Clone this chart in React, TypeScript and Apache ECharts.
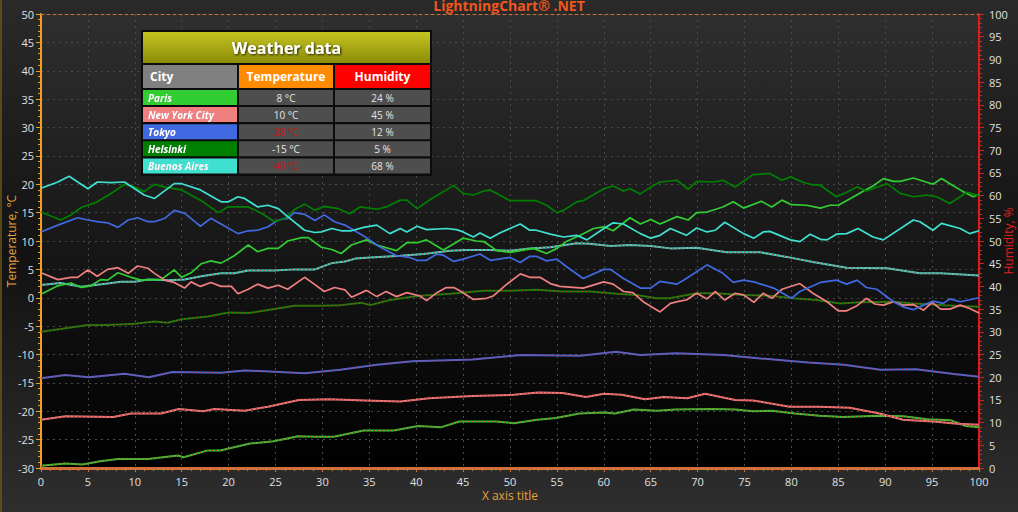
import React, { useEffect, useRef } from "react";
import * as echarts from "echarts";

// ---------- table data ----------
const cities = ["Paris", "New York City", "Tokyo", "Helsinki", "Buenos Aires"];
const cityTemps = [8, 10, 28, -15, 40];
const cityHumidity = [24, 45, 12, 5, 68];
const cityColors = ["#32CD32", "#F08080", "#4169E1", "#008000", "#40E0D0"];

// ---------- series data: [x, value °C] ----------
const parisSolid = [[0,0.6],[1.8,2.1],[3.2,2.6],[4.3,1.8],[5.3,2.1],[6.4,3.2],[7.1,3.1],[8.2,4.4],[9.6,3.6],[10.7,3.1],[11.7,3.2],[12.8,3.2],[14.2,4.9],[15,3.6],[16,4.4],[17.1,6.0],[18.1,6.5],[19.2,6.1],[20.6,7.4],[22.1,9.3],[23.1,8.1],[24.2,8.7],[25.3,8.7],[26.3,10.0],[27.8,10.6],[28.5,10.6],[29.9,8.9],[31,8.5],[32,7.8],[33.1,9.3],[34.7,10.2],[35.8,9.3],[37.9,8.3],[39,9.7],[40.1,9.7],[41.1,10.2],[42.9,8.4],[45,10.5],[46.4,10.0],[47.2,9.9],[48.6,8.3],[50,8.0],[51.4,8.4],[52.5,8.7],[53.9,7.8],[55,8.7],[56,9.9],[57.5,11.0],[58.9,12.2],[60,12.5],[61,11.8],[62.8,14.1],[63.9,13.0],[65,13.8],[66,13.0],[67.8,14.3],[69,13.7],[69.9,15.0],[71,15.1],[72.7,16.0],[73.8,16.9],[74.9,15.8],[76.8,17.0],[77.9,16.0],[79,17.2],[80,16.4],[81.6,16.3],[83.1,15.8],[84.1,16.3],[85,16.3],[86.3,17.5],[87.7,18.8],[88.7,19.7],[89.8,21.0],[90.9,20.5],[91.6,20.5],[93,21.1],[95.1,20.0],[96,21.0],[96.9,20.1],[98.3,18.7],[99.4,17.8],[100,18.2]];
const newYorkSolid = [[0,4.4],[1.8,3.2],[3.2,3.6],[3.9,3.6],[5,4.9],[6,3.8],[7.1,5.0],[8.2,5.3],[9.3,4.3],[10.3,5.6],[11.4,5.2],[12.1,4.3],[13.2,3.1],[14.2,2.7],[15.3,1.7],[16,2.8],[17,2.0],[18.1,2.7],[19.2,2.0],[20.3,2.0],[21,0.7],[22.1,1.5],[23.1,2.4],[24.2,1.7],[25.3,2.2],[26.3,1.5],[28.1,3.6],[28.8,2.8],[30.2,1.1],[31.3,1.8],[32.4,1.4],[33.1,0.1],[34.7,1.3],[35.8,0.2],[36.8,1.1],[37.9,0.2],[39,0.9],[40.4,0.3],[41.1,-0.5],[42.2,0.9],[43.2,1.8],[44,1.8],[44.7,1.2],[46.1,-0.3],[47.5,-0.1],[48.2,0.3],[49.6,2.3],[51.1,4.2],[52.1,3.6],[53.2,3.6],[54.3,2.5],[55.3,2.0],[57.8,1.7],[60,2.8],[61,2.4],[62.1,1.1],[63.1,0.9],[64.2,-0.7],[66,-2.5],[67.1,-1.0],[68.1,-0.6],[68.8,-0.4],[69.9,0.8],[71,-0.2],[71.9,1.1],[72.9,-0.4],[74,0.8],[74.9,0.5],[76,-0.8],[77,0.8],[77.9,-0.1],[79,1.5],[80.9,2.5],[82.3,0.8],[83.8,-0.7],[85,-2.3],[85.9,-2.3],[87,-1.4],[88,-0.1],[88.9,-1.1],[89.8,-1.3],[90.9,-0.7],[91.9,-1.3],[93,-1.2],[94.1,-2.2],[95,-0.8],[95.9,-2.0],[96.9,-2.0],[98,-1.3],[99,-1.9],[100,-2.7]];
const tokyoSolid = [[0,11.6],[1.8,12.8],[3.9,14.1],[5,13.7],[6,13.4],[7.1,13.2],[8.2,12.4],[9.3,13.7],[10.3,14.1],[11.4,13.4],[12.1,13.4],[13.2,14.0],[14.2,15.4],[15.3,14.9],[16.4,13.4],[17,12.6],[18.1,14.0],[19.2,13.0],[21,11.3],[22.1,11.8],[23.1,11.9],[24.2,12.5],[25.3,13.7],[26.3,14.0],[27,15.0],[28.1,14.7],[29.2,13.6],[30.2,14.6],[31.3,13.4],[32.4,12.8],[34.4,10.9],[36.1,9.0],[37.9,7.4],[39.3,7.1],[40.1,6.6],[41.1,6.6],[42.2,7.7],[42.9,7.5],[44,6.4],[45,6.8],[46.8,7.7],[47.9,6.6],[50,7.1],[51.1,6.2],[52.1,7.3],[52.8,7.3],[53.9,6.5],[55,6.8],[56,5.5],[57.8,3.4],[60,5.0],[60.7,5.0],[62.1,3.4],[63.9,1.7],[65,1.7],[66,2.9],[67.8,2.4],[68.8,3.4],[71,5.8],[72.7,4.3],[73.8,2.7],[74.9,3.1],[76,2.8],[78.1,1.7],[80,-0.1],[80.9,1.1],[83.1,2.7],[84.8,3.1],[85.9,2.4],[87,3.1],[88,1.8],[89.1,1.5],[90.9,-0.7],[91.9,-1.6],[93,-2.1],[94.1,-1.3],[95.1,-0.6],[96.2,-1.0],[96.9,-0.2],[98,-0.7],[100,0.0]];
const helsinkiSolid = [[0,15.1],[2.1,13.7],[3.2,14.6],[4.3,15.9],[6,16.9],[7.5,18.4],[8.9,20.0],[10,19.5],[11,18.7],[12.1,20.0],[13.2,19.5],[15,19.0],[17,17.2],[18.9,15.0],[19.9,16.0],[22.1,16.0],[23.5,14.9],[24.9,13.4],[26,14.0],[27,15.5],[28.1,16.5],[29.2,15.4],[30.2,16.1],[31.7,15.7],[32.9,14.8],[34,16.0],[35.8,15.6],[36.8,16.0],[38.3,17.2],[39,17.2],[40.1,15.7],[41.5,17.3],[42.9,18.7],[44,19.8],[45,18.4],[46.1,18.1],[47.2,18.8],[47.9,19.0],[50,17.1],[52.8,17.1],[53.9,16.3],[55,15.0],[55.7,15.4],[57.1,16.9],[57.8,17.1],[60,19.2],[61,19.7],[62.1,18.8],[62.8,19.2],[63.9,18.3],[65,19.5],[66,20.4],[67.8,20.7],[69,19.1],[69.9,20.5],[71.7,20.4],[72.7,20.7],[74,19.5],[75.9,21.7],[77.7,21.9],[79,20.7],[79.9,21.3],[81.3,20.3],[82.3,19.9],[83,19.9],[84.8,17.8],[85.9,18.6],[87,19.5],[88,18.8],[90.2,20.1],[91.6,18.4],[93,17.8],[94.4,18.1],[95.5,17.8],[96.9,16.6],[98.7,18.6],[100,18.0]];
const buenosAiresSolid = [[0,19.3],[1.8,20.4],[3,21.4],[5,19.2],[6,20.4],[7.5,20.3],[8.9,20.4],[11,18.1],[12.1,17.5],[14.2,20.1],[15,20.1],[17,19.0],[19.2,16.9],[20,16.9],[21,17.8],[21.7,17.5],[23.1,16.0],[24.2,16.3],[25.3,15.7],[26.3,14.3],[28.1,11.9],[29.2,11.5],[29.9,11.6],[31,12.2],[32,11.8],[33.1,11.8],[34.4,12.4],[35.8,12.8],[37.2,11.3],[38.3,12.2],[39,11.6],[40.1,12.6],[41.1,12.0],[43.2,12.2],[44.3,12.0],[45,11.6],[46.1,10.7],[46.8,11.4],[47.9,10.5],[48.9,11.4],[51.1,13.0],[52.1,11.9],[52.8,11.9],[54.3,11.2],[55.7,10.7],[57.1,11.0],[58.2,10.2],[60,12.2],[61,13.2],[62.1,13.0],[63.9,11.3],[65,10.5],[66,11.0],[67.1,12.2],[68.8,11.0],[69.9,12.3],[71,11.6],[71.9,11.9],[72.9,13.3],[74.9,11.3],[76,10.5],[77,11.6],[77.7,11.7],[79.9,10.2],[80.9,9.9],[82,11.2],[83.1,10.3],[83.8,10.2],[84.8,11.2],[85.9,11.3],[87.1,12.2],[88.7,10.7],[89.8,10.2],[93,13.7],[93.7,13.4],[95.1,11.9],[96,13.1],[98,12.2],[99,11.3],[100,11.8]];

const parisDashed = [[0,-29.6],[2.6,-29.2],[4.4,-29.4],[6.3,-28.8],[8.2,-28.4],[11.4,-28.4],[14.6,-27.8],[15.2,-28.1],[17.8,-26.9],[19.1,-26.9],[22.3,-25.7],[24.8,-25.3],[27.4,-24.4],[29.3,-24.5],[31.2,-24.5],[34.4,-23.4],[37.6,-23.4],[40.2,-22.6],[42.7,-22.8],[44.6,-21.8],[48.5,-21.8],[50.4,-22.1],[52.9,-21.5],[54.9,-21.2],[57.4,-20.4],[60,-20.2],[61.2,-20.4],[63.2,-19.7],[65.7,-19.9],[67.6,-19.7],[71.5,-19.6],[74,-19.7],[75.9,-20.0],[77.9,-19.9],[80.4,-20.4],[83,-20.8],[85.5,-21.0],[89.4,-20.8],[91.9,-20.9],[94.5,-21.4],[97,-21.6],[98.6,-22.6],[100,-22.8]];
const newYorkDashed = [[0,-21.5],[2.6,-20.9],[7.7,-21.0],[9.6,-20.4],[12.8,-20.4],[14.7,-19.6],[17.3,-20.0],[18.5,-19.6],[21.7,-19.9],[24.2,-19.2],[27.5,-18.0],[30.7,-17.9],[34.5,-18.1],[38.3,-18.3],[41.4,-17.7],[46,-17.3],[50.4,-17.1],[53,-16.7],[55.6,-16.8],[58.1,-17.5],[60,-16.9],[61.9,-17.1],[64.4,-17.9],[66.4,-17.5],[68.9,-17.7],[70.8,-16.9],[74,-18.0],[75.9,-18.1],[79.8,-19.2],[83,-19.2],[86.2,-19.4],[89.4,-20.4],[91.9,-21.5],[95.1,-21.8],[97.7,-22.2],[100,-22.4]];
const tokyoDashed = [[0,-14.2],[2.6,-13.6],[5.1,-14.0],[8.9,-13.4],[11.5,-14.0],[14,-13.1],[19.2,-13.2],[21.7,-12.8],[28.1,-13.3],[31.9,-12.7],[35.8,-11.8],[39.6,-11.2],[46,-10.9],[51.1,-10.1],[57.5,-10.2],[61.3,-9.5],[63.9,-10.1],[67.7,-9.8],[72.8,-10.1],[76.7,-10.7],[81.8,-11.4],[85.6,-11.8],[89.5,-12.7],[93.3,-12.6],[97.1,-13.4],[100,-13.9]];
const helsinkiDashed = [[0,-6.0],[2.1,-5.5],[5,-4.8],[7.1,-4.8],[10,-4.6],[12.1,-4.2],[13.5,-4.4],[15,-3.8],[17.8,-3.3],[20,-2.6],[22.1,-2.7],[24.9,-2.0],[27,-1.4],[29.9,-1.4],[32,-1.3],[34.2,-0.9],[35.1,-1.3],[37.2,-0.4],[40.1,0.3],[43.6,0.7],[47.2,1.25],[50,1.25],[52.8,1.4],[55.7,1.1],[58.5,1.1],[61.4,0.7],[63.5,0.5],[65.6,-0.1],[67,-0.1],[69.9,0.8],[71.7,0.8],[74.9,0.5],[77.7,0.35],[80.2,-0.1],[82.7,-0.4],[85.2,-1.0],[87.3,-0.8],[90.9,-0.7],[93,-1.0],[96.2,-1.3],[100,-1.6]];
const buenosAiresDashed = [[0,2.25],[2.1,2.6],[4.3,1.95],[7.1,2.5],[8.5,2.8],[10,2.8],[11.4,3.2],[13.5,3.1],[15.3,3.2],[17.1,3.8],[19.2,4.3],[20.6,4.3],[22.1,4.8],[24.9,4.8],[27,5.0],[29.2,5.0],[31,6.1],[32.4,6.4],[33.5,6.9],[35.1,7.1],[38.3,7.4],[40.8,7.7],[43.6,8.3],[45.4,8.4],[47.9,8.4],[50,8.3],[52.1,8.7],[54.3,8.9],[57.1,9.6],[58.5,9.5],[60.7,9.1],[62.8,9.3],[65,9.1],[67.1,8.7],[69.9,8.8],[73.1,8.0],[76.7,8.0],[79.5,7.2],[82.3,6.3],[85.9,5.3],[90.2,5.2],[93.7,4.3],[95.9,4.3],[100,3.9]];

const solidSeries = [parisSolid, newYorkSolid, tokyoSolid, helsinkiSolid, buenosAiresSolid];
const dashedSeries = [parisDashed, newYorkDashed, tokyoDashed, helsinkiDashed, buenosAiresDashed];

const FONT = '"Open Sans", "Noto Sans", sans-serif';

function buildTable(): any[] {
  const els: any[] = [];
  const colX = [143, 239, 335];
  const colW = [94, 94, 95];
  els.push({ type: "rect", shape: { x: 141, y: 30, width: 291, height: 146 }, style: { fill: "#0c0c0c" }, z: 10 });
  els.push({
    type: "rect", shape: { x: 143, y: 32, width: 287, height: 31 },
    style: { fill: new echarts.graphic.LinearGradient(0, 0, 0, 1, [{ offset: 0, color: "#C4C421" }, { offset: 1, color: "#8C8C08" }]) }, z: 11,
  });
  els.push({
    type: "text", x: 286.5, y: 48, z: 12,
    style: { text: "Weather data", fill: "#fff", font: `bold 16px ${FONT}`, align: "center", verticalAlign: "middle", textShadowColor: "rgba(0,0,0,0.8)", textShadowBlur: 2, textShadowOffsetX: 1, textShadowOffsetY: 1 },
  });
  const headers = ["City", "Temperature", "Humidity"];
  const headFills = ["#808080", "#FF8C00", "#FF0000"];
  headers.forEach((h, j) => {
    els.push({ type: "rect", shape: { x: colX[j], y: 65, width: colW[j], height: 23 }, style: { fill: headFills[j] }, z: 11 });
    els.push({
      type: "text", x: j === 0 ? colX[j] + 7 : colX[j] + colW[j] / 2, y: 76.5, z: 12,
      style: { text: h, fill: "#fff", font: `bold 12px ${FONT}`, align: j === 0 ? "left" : "center", verticalAlign: "middle" },
    });
  });
  cities.forEach((c, i) => {
    const y = 90 + i * 17.1;
    els.push({ type: "rect", shape: { x: colX[0], y, width: colW[0], height: 15 }, style: { fill: cityColors[i] }, z: 11 });
    els.push({
      type: "text", x: colX[0] + 5, y: y + 7.5, z: 12,
      style: { text: c, fill: "#fff", font: `italic bold 10px ${FONT}`, align: "left", verticalAlign: "middle", textShadowColor: "rgba(0,0,0,0.6)", textShadowBlur: 1 },
    });
    const vals = [`${cityTemps[i]} °C`, `${cityHumidity[i]} %`];
    vals.forEach((v, k) => {
      const j = k + 1;
      els.push({ type: "rect", shape: { x: colX[j], y, width: colW[j], height: 15 }, style: { fill: "rgba(88,88,88,0.88)" }, z: 11 });
      els.push({
        type: "text", x: colX[j] + colW[j] / 2, y: y + 7.5, z: 12,
        style: { text: v, fill: k === 0 && cityTemps[i] > 25 ? "#D01515" : "#E4E4E4", font: `10px ${FONT}`, align: "center", verticalAlign: "middle" },
      });
    });
  });
  return els;
}

export default function App() {
  const ref = useRef<HTMLDivElement>(null);
  useEffect(() => {
    document.body.style.margin = "0";
    const chart = echarts.init(ref.current!, undefined, { renderer: "svg" });
    const series: any[] = [];
    cities.forEach((c, i) => {
      series.push({
        name: c + " dashed", type: "line", data: dashedSeries[i], showSymbol: false, symbol: "none",
        lineStyle: { color: cityColors[i], width: 2 }, z: 3,
      });
      series.push({
        name: c + " dashed overlay", type: "line", data: dashedSeries[i], showSymbol: false, symbol: "none",
        lineStyle: { color: "rgba(205,55,55,0.9)", width: 1, type: [2, 2] }, z: 4,
      });
    });
    cities.forEach((c, i) => {
      series.push({
        name: c, type: "line", data: solidSeries[i], showSymbol: false, symbol: "none",
        lineStyle: { color: cityColors[i], width: 1.7 }, z: 5,
      });
    });

    const option: any = {
      animation: false,
      backgroundColor: new echarts.graphic.LinearGradient(0, 0, 0, 1, [
        { offset: 0, color: "#2a2a2a" },
        { offset: 0.5, color: "#121212" },
        { offset: 1, color: "#2e2e2e" },
      ]),
      textStyle: { fontFamily: FONT },
      grid: {
        left: 41, right: 39, top: 14, bottom: 44, show: true, borderWidth: 0,
        containLabel: false, outerBoundsMode: "none",
        backgroundColor: new echarts.graphic.LinearGradient(0, 0, 0, 1, [
          { offset: 0, color: "#2f2f2f" },
          { offset: 1, color: "#000000" },
        ]),
      },
      xAxis: [
        {
          type: "value", min: 0, max: 100, interval: 5, position: "bottom",
          axisLine: { show: true, onZero: false, lineStyle: { color: "#D0703A", width: 3 } },
          axisTick: { show: true, length: 4, lineStyle: { color: "#D0703A" } },
          minorTick: { show: true, splitNumber: 5, length: 3, lineStyle: { color: "#D0703A" } },
          axisLabel: { color: "#E0E0E0", fontSize: 11, margin: 8, fontFamily: FONT },
          splitLine: { show: true, lineStyle: { color: "#4a4a4a", type: [2, 4], width: 1 } },
          name: "X axis title", nameLocation: "middle", nameGap: 21, nameMoveOverlap: false,
          nameTextStyle: { color: "#E9A23B", fontSize: 12, fontFamily: FONT },
        },
        {
          type: "value", min: 0, max: 100, position: "top",
          axisLine: { show: true, onZero: false, lineStyle: { color: "#C8702F", width: 1, type: [3, 3] } },
          axisTick: { show: false }, axisLabel: { show: false }, splitLine: { show: false },
        },
      ],
      yAxis: [
        {
          type: "value", min: -30, max: 50, interval: 5, position: "left",
          axisLine: { show: true, onZero: false, lineStyle: { color: "#F0A020", width: 2 } },
          axisTick: { show: true, length: 5, lineStyle: { color: "#F0A020" } },
          minorTick: { show: true, splitNumber: 5, length: 3, lineStyle: { color: "#F0A020" } },
          axisLabel: { color: "#E0E0E0", fontSize: 11, margin: 7, fontFamily: FONT },
          splitLine: { show: true, lineStyle: { color: "#4a4a4a", type: [2, 4], width: 1 } },
          name: "Temperature, °C", nameLocation: "middle", nameGap: 24, nameMoveOverlap: false,
          nameTextStyle: { color: "#E9A23B", fontSize: 12, fontFamily: FONT },
        },
        {
          type: "value", min: 0, max: 100, interval: 5, position: "right",
          axisLine: { show: true, onZero: false, lineStyle: { color: "#E01B1B", width: 2 } },
          axisTick: { show: true, length: 5, lineStyle: { color: "#E01B1B" } },
          minorTick: { show: true, splitNumber: 5, length: 3, lineStyle: { color: "#E01B1B" } },
          axisLabel: { color: "#E0E0E0", fontSize: 11, margin: 10, fontFamily: FONT },
          splitLine: { show: false },
          name: "Humidity, %", nameLocation: "middle", nameGap: 23, nameRotate: 90, nameMoveOverlap: false,
          nameTextStyle: { color: "#E02020", fontSize: 12, fontFamily: FONT },
        },
      ],
      series,
      graphic: [
        {
          type: "text", x: 509, y: 5, z: 20,
          style: { text: "LightningChart® .NET", fill: "#F0561D", font: `bold 14px ${FONT}`, align: "center", verticalAlign: "middle" },
        },
        { type: "line", shape: { x1: 1, y1: 0, x2: 1, y2: 512 }, style: { stroke: "#6b5818", lineWidth: 1.5 }, z: 20 },
        ...buildTable(),
      ],
    };
    chart.setOption(option);
    return () => chart.dispose();
  }, []);
  return <div ref={ref} style={{ width: 1018, height: 512 }} />;
}
